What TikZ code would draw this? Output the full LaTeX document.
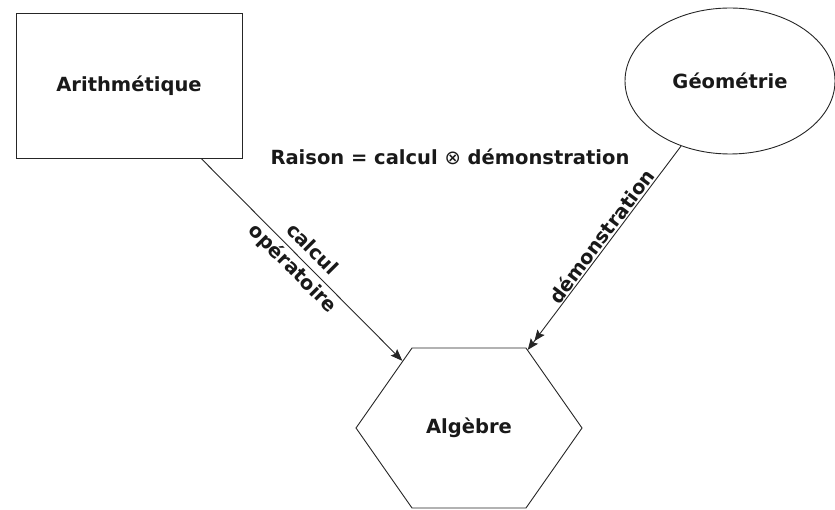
\documentclass[tikz,border=0pt]{standalone}
\usepackage{fontspec}
\setmainfont{DejaVu Sans}
\newfontfamily\djvsym{DejaVu Sans}
\usetikzlibrary{shapes.geometric,shapes.symbols,arrows.meta}
\begin{document}
\begin{tikzpicture}[x=1pt,y=-1pt,
  txt/.style={font=\bfseries\fontsize{19.5}{22}\selectfont, text=black!90},
  box/.style={draw=black!85, line width=0.9pt, inner sep=0pt, txt},
  conn/.style={line width=0.9pt, draw=black!85},
  tip/.style={-{Stealth[length=12pt,width=9pt,inset=2pt]}},
  dtip/.style={-{Stealth[length=11pt,width=9pt,inset=2pt]Stealth[length=11pt,width=9pt,inset=2pt]}}]
\useasboundingbox (0,0) rectangle (835,510);
\node[box, rectangle, minimum width=226pt, minimum height=145pt] (arith) at (129,85.5) {Arithmétique};
\node[box, ellipse, minimum width=210pt, minimum height=146pt] (geo) at (730,81) {Géométrie};
\node[box, signal, signal to=east and west, signal pointer angle=110,
      minimum width=226pt, minimum height=160pt] (alg) at (469,428) {Algèbre};
\node[txt] (raison) at (450,157) {Raison = calcul {\djvsym\mdseries ⊗} démonstration};
\draw[conn, tip] (arith) -- node[txt, midway, sloped, align=center] {calcul\\[5pt]opératoire} (alg);
\draw[conn, dtip] (geo) -- node[txt, pos=0.47, sloped, above, inner sep=1pt] {démonstration} (alg);
\end{tikzpicture}
\end{document}
